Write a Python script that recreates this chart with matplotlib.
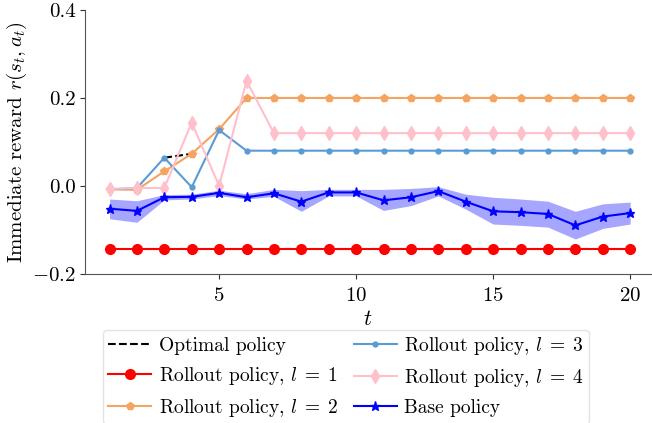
import numpy as np
import matplotlib
matplotlib.use("Agg")
import matplotlib.pyplot as plt

plt.rcParams['font.family'] = 'serif'
plt.rcParams['font.serif'] = ['cmr10']
plt.rcParams['mathtext.fontset'] = 'cm'
plt.rcParams['axes.formatter.use_mathtext'] = True

t = np.arange(1, 21)
nan = np.nan

optimal = [nan, nan, 0.064, 0.073] + [nan] * 16
rollout_l1 = [-0.143] * 20
rollout_l2 = [-0.008, -0.009, 0.033, 0.073, 0.129, 0.2] + [0.2] * 14
rollout_l3 = [-0.008, -0.005, 0.064, -0.003, 0.127, 0.08] + [0.08] * 14
rollout_l4 = [-0.007, -0.005, -0.005, 0.144, 0.0, 0.239] + [0.12] * 14
base = [-0.052, -0.057, -0.026, -0.025, -0.016, -0.026, -0.017, -0.036, -0.015, -0.015,
        -0.033, -0.026, -0.012, -0.036, -0.058, -0.060, -0.064, -0.090, -0.070, -0.062]
base_upper = [-0.030, -0.034, -0.020, -0.019, -0.010, -0.018, -0.008, -0.011, -0.008, -0.008,
              -0.008, -0.006, -0.002, -0.019, -0.026, -0.030, -0.035, -0.058, -0.041, -0.037]
base_lower = [-0.075, -0.083, -0.032, -0.030, -0.022, -0.030, -0.024, -0.058, -0.023, -0.023,
              -0.056, -0.045, -0.023, -0.053, -0.087, -0.090, -0.094, -0.121, -0.097, -0.087]

fig = plt.figure(figsize=(6.52, 4.23), dpi=100)
ax = fig.add_axes([0.131, 0.353, 0.867, 0.623])

ax.plot(t, optimal, '--', color='black', lw=1.5, label='Optimal policy')
ax.plot(t, rollout_l1, '-o', color='red', lw=1.5, ms=7, label=r'Rollout policy, $l\;=\;1$')
ax.plot(t, rollout_l2, '-p', color='#f4a460', lw=1.5, ms=6, label=r'Rollout policy, $l\;=\;2$')
ax.plot(t, rollout_l3, '-o', color='#5b9bd5', lw=1.5, ms=3.5, label=r'Rollout policy, $l\;=\;3$')
ax.plot(t, rollout_l4, '-d', color='pink', lw=1.5, ms=7, label=r'Rollout policy, $l\;=\;4$')
ax.plot(t, base, '-*', color='blue', lw=1.5, ms=6.5, label='Base policy')
ax.fill_between(t, base_lower, base_upper, color='blue', alpha=0.35, lw=0)

ax.set_xlim(0.12, 20.75)
ax.set_ylim(-0.2, 0.4)
ax.set_xticks([5, 10, 15, 20])
ax.set_yticks([-0.2, 0.0, 0.2, 0.4])
ax.yaxis.set_major_formatter(matplotlib.ticker.FuncFormatter(
    lambda v, p: ('$-$' if v < -1e-9 else '') + '%.1f' % abs(v)))
ax.tick_params(labelsize=15, colors='#333333', labelcolor='black')
ax.tick_params(axis='x', pad=6)
ax.spines['top'].set_visible(False)
ax.spines['right'].set_visible(False)
ax.spines['left'].set_color('#555555')
ax.spines['bottom'].set_color('#555555')
ax.set_xlabel('$t$', fontsize=16, labelpad=3)
ax.set_ylabel(r'Immediate reward $r(s_t, a_t)$', fontsize=15, labelpad=2)

fig.legend(loc='upper center', bbox_to_anchor=(0.531, 0.242), ncol=2, fontsize=14,
           frameon=True, handlelength=2.2, handletextpad=0.4, columnspacing=0.8,
           labelspacing=0.5, borderpad=0.25, edgecolor='#dddddd', fancybox=True)

fig.savefig('out.png', dpi=100)
